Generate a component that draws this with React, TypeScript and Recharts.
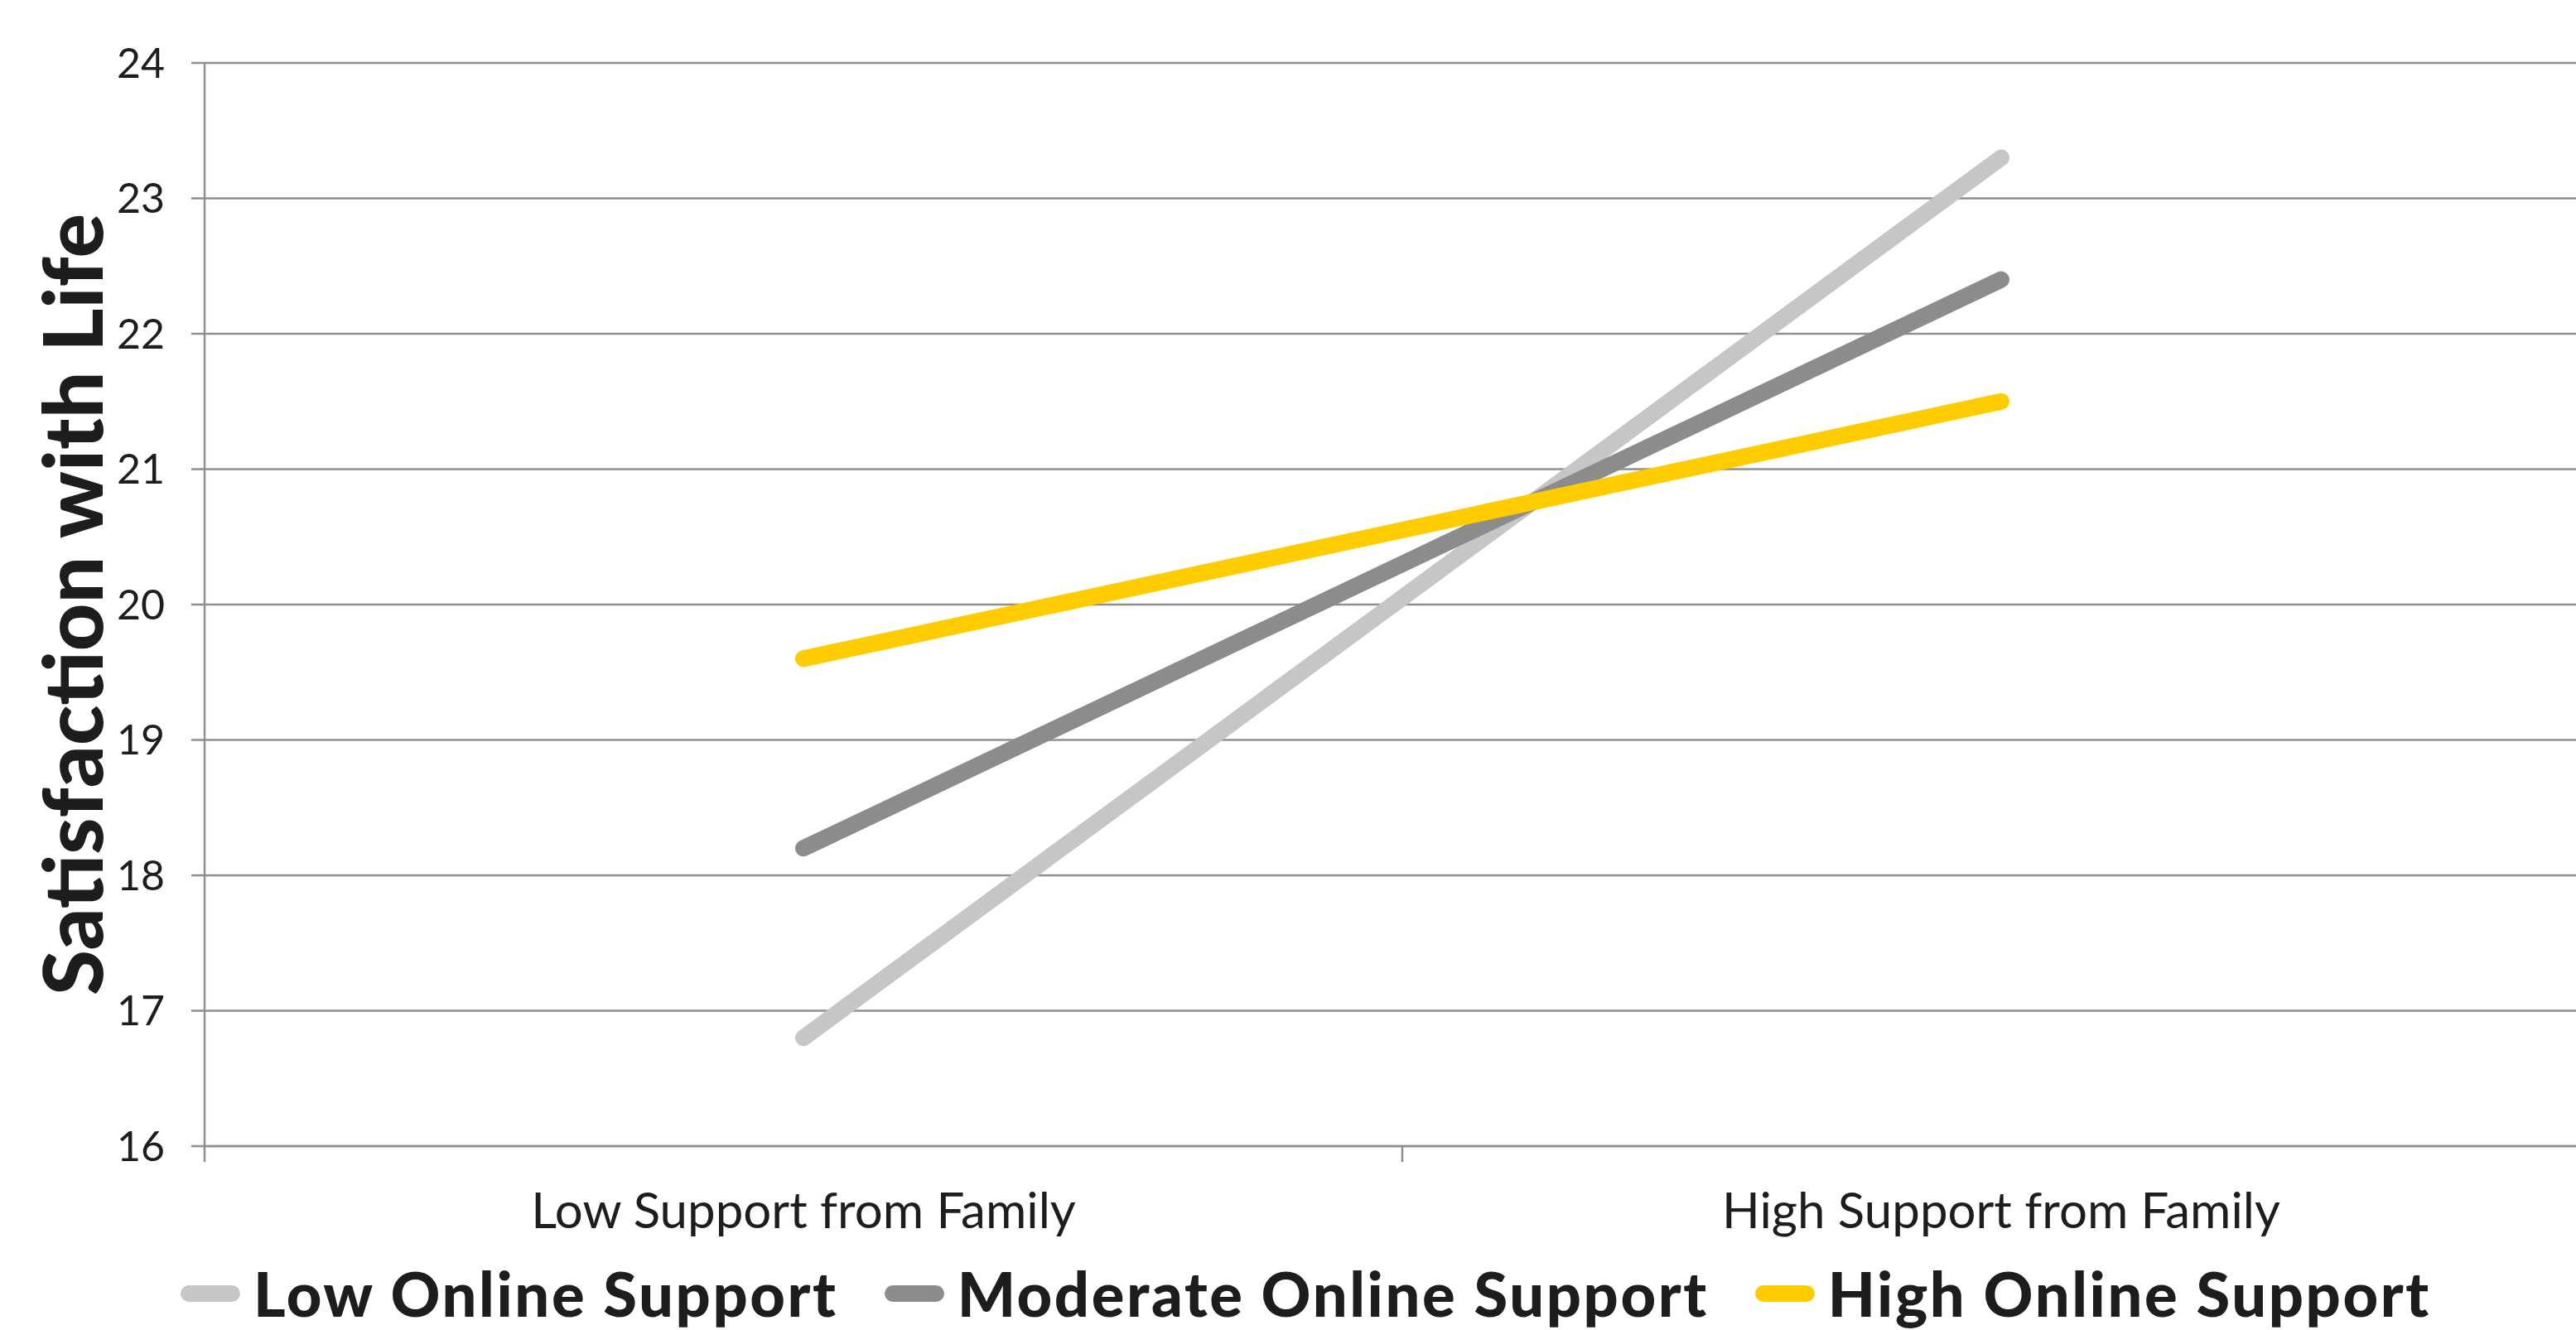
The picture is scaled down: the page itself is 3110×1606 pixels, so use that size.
import { LineChart, Line, XAxis, YAxis, CartesianGrid, Legend } from 'recharts';

const familyLevels = ['Low Support from Family', 'High Support from Family'];
const seriesNames = ['Low Online Support', 'Moderate Online Support', 'High Online Support'];
const lowOnline = [16.8, 23.3];
const moderateOnline = [18.2, 22.4];
const highOnline = [19.6, 21.5];
const yTicks = [16, 17, 18, 19, 20, 21, 22, 23, 24];

const seriesColors = ['#c6c6c6', '#8c8c8c', '#ffcc00'];
const gridColor = '#8f8f8f';
const textColor = '#1d1d1b';
const font = 'Lato, "Open Sans", sans-serif';

// x runs 0..2, each family level sits in the middle of its band
const data = familyLevels.map((name, i) => ({
  x: i + 0.5,
  name,
  low: lowOnline[i],
  moderate: moderateOnline[i],
  high: highOnline[i],
}));

const seriesKeys = ['low', 'moderate', 'high'];

function FamilyTick(props: any) {
  const { x, y, payload } = props;
  const v = payload.value;
  if (Number.isInteger(v)) {
    // boundary tick marks between the bands
    return <line x1={x} x2={x} y1={y} y2={y + 19} stroke={gridColor} strokeWidth={2.5} />;
  }
  return (
    <text x={x} y={y + 99} textAnchor="middle" fill={textColor} fontSize={60} fontFamily={font}>
      {familyLevels[Math.floor(v)]}
    </text>
  );
}

function YTitle(props: any) {
  const { viewBox } = props;
  const cx = viewBox.x + 85;
  const cy = viewBox.y + viewBox.height / 2;
  return (
    <text
      x={cx}
      y={cy}
      transform={`rotate(-90, ${cx}, ${cy})`}
      textAnchor="middle"
      dominantBaseline="central"
      fill={textColor}
      fontSize={100}
      fontWeight={900}
      fontFamily={font}
    >
      Satisfaction with Life
    </text>
  );
}

function LegendRow(props: any) {
  const items = [...(props.payload || [])].sort(
    (a: any, b: any) => seriesNames.indexOf(a.value) - seriesNames.indexOf(b.value)
  );
  return (
    <div style={{ height: 92, display: 'flex', alignItems: 'center', paddingLeft: 218, paddingTop: 4, boxSizing: 'border-box', fontFamily: font }}>
      {items.map((entry: any) => (
        <div key={entry.value} style={{ display: 'flex', alignItems: 'center', marginRight: 56 }}>
          <span
            style={{ width: 72, height: 20, borderRadius: 10, background: entry.color, marginRight: 16 }}
          />
          <span style={{ fontSize: 74, fontWeight: 900, letterSpacing: 2.6, color: textColor, lineHeight: 1 }}>
            {entry.value}
          </span>
        </div>
      ))}
    </div>
  );
}

export default function App() {
  return (
    <div
      style={{
        position: 'fixed',
        left: 0,
        top: 0,
        width: 3110,
        height: 1606,
        overflow: 'hidden',
        background: '#fff',
      }}
    >
      <LineChart width={3140} height={1606} data={data} margin={{ top: 76, right: 1, bottom: 0, left: 0 }}>
        <CartesianGrid vertical={false} stroke={gridColor} strokeWidth={2.5} />
        <XAxis
          dataKey="x"
          type="number"
          domain={[0, 2]}
          ticks={[0, 0.5, 1, 1.5, 2]}
          interval={0}
          height={130}
          tickSize={0}
          tickMargin={0}
          tickLine={false}
          axisLine={{ stroke: gridColor, strokeWidth: 2.5 }}
          tick={<FamilyTick />}
        />
        <YAxis
          domain={[16, 24]}
          ticks={yTicks}
          interval={0}
          width={247}
          tickSize={16}
          tickMargin={32}
          axisLine={{ stroke: gridColor, strokeWidth: 2.5 }}
          tickLine={{ stroke: gridColor, strokeWidth: 2.5 }}
          tick={{ fill: textColor, fontSize: 50, fontFamily: font }}
          label={<YTitle />}
        />
        <Legend verticalAlign="bottom" height={92} content={<LegendRow />} />
        {seriesKeys.map((key, i) => (
          <Line
            key={key}
            type="linear"
            dataKey={key}
            name={seriesNames[i]}
            stroke={seriesColors[i]}
            strokeWidth={20}
            strokeLinecap="round"
            dot={false}
            activeDot={false}
            isAnimationActive={false}
          />
        ))}
      </LineChart>
    </div>
  );
}
